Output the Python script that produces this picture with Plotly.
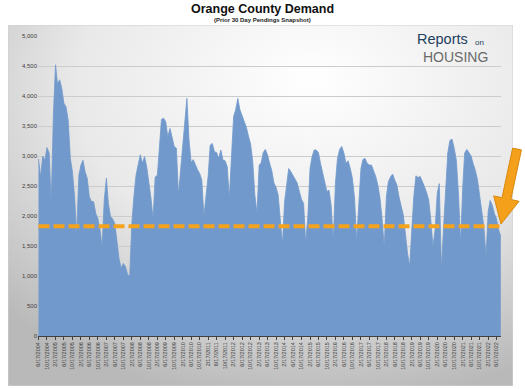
import base64
import pandas as pd
import plotly.graph_objects as go

# ---- data, monthly snapshots from 6/17/2004 ----
demand = [
    2950, 2650, 3000, 2930, 3140, 3050, 2220, 3700, 4520, 4200, 4270, 4130,
    3880, 3820, 3600, 2960, 2740, 2320, 1680, 2680, 2850, 2930, 2740, 2630,
    2320, 2240, 2240, 2040, 1960, 1770, 1490, 2270, 2630, 2210, 1990, 1950,
    1880, 1570, 1290, 1130, 1210, 1160, 1030, 990, 1880, 2320, 2680, 2850,
    3020, 2880, 2990, 2820, 2570, 2300, 1960, 2650, 2680, 3180, 3610, 3630,
    3570, 3320, 3460, 3310, 3160, 3130, 2350, 2770, 3210, 3550, 3960, 3270,
    2890, 2940, 2840, 2770, 2710, 2600, 2000, 2320, 2680, 3180, 3210, 3070,
    3060, 2960, 3100, 2930, 2920, 2820, 2300, 2990, 3660, 3770, 3960, 3770,
    3670, 3550, 3480, 3330, 3200, 2910, 2350, 2050, 2850, 2880, 3060, 3110,
    3020, 2880, 2760, 2550, 2480, 2350, 1910, 1520, 2240, 2550, 2790, 2740,
    2670, 2610, 2550, 2410, 2280, 2210, 1550, 2000, 2790, 2980, 3100, 3100,
    3060, 2880, 2720, 2600, 2410, 2430, 2180, 1600, 2550, 2960, 3110, 3160,
    3050, 2880, 2920, 2790, 2630, 2300, 1580, 2200, 2790, 2940, 2960, 2880,
    2850, 2850, 2760, 2660, 2520, 2300, 1960, 1490, 2320, 2570, 2650, 2700,
    2600, 2520, 2320, 2170, 2020, 1710, 1380, 1160, 1880, 2320, 2670, 2640,
    2660, 2590, 2490, 2390, 2270, 1930, 1490, 1770, 2380, 2540, 1100, 1800,
    2550, 3050, 3260, 3280, 3130, 2930, 2380, 1550, 2490, 3050, 3110, 3060,
    3000, 2870, 2760, 2600, 2330, 2100, 1820, 1320, 2070, 2260, 2180, 2040,
    1950, 1770, 1660,
]
dates = pd.date_range("2004-06-01", periods=len(demand), freq="MS") + pd.Timedelta(days=16)
avg_demand = 1830
tick_dates = list(dates[::4])
tick_labels = [f"{d.month}/{d.day}/{d.year}" for d in tick_dates]
y_ticks = [0, 500, 1000, 1500, 2000, 2500, 3000, 3500, 4000, 4500, 5000]

# ---- geometry helpers (pixel -> paper) ----
L, R, T, B = 38, 501, 36, 336
def px(X):
    return (X - L) / (R - L)
def py(Y):
    return (B - Y) / (B - T)

fig = go.Figure()

fig.add_trace(go.Scatter(
    x=dates, y=demand, mode="lines", fill="tozeroy",
    line=dict(color="#7199cb", width=0.8), fillcolor="#7199cb",
    hoverinfo="skip", showlegend=False,
))
fig.add_trace(go.Scatter(
    x=[dates[0], dates[-1]], y=[avg_demand, avg_demand], mode="lines",
    line=dict(color="#f5a21d", width=4, dash="11px,4px"),
    hoverinfo="skip", showlegend=False,
))

# panel background gradient as SVG image
svg = (
    '<svg xmlns="http://www.w3.org/2000/svg" width="505" height="361" viewBox="0 0 505 361" preserveAspectRatio="none">'
    '<defs><radialGradient id="g" cx="0.6" cy="0.2" r="0.85" fx="0.6" fy="0.15">'
    '<stop offset="0" stop-color="#ffffff"/><stop offset="0.55" stop-color="#e9e9e9"/>'
    '<stop offset="1" stop-color="#b9b9b9"/></radialGradient></defs>'
    '<rect x="0" y="0" width="505" height="361" fill="url(#g)" stroke="#d0d0d0" stroke-width="1"/></svg>'
)
uri = "data:image/svg+xml;base64," + base64.b64encode(svg.encode()).decode()
fig.add_layout_image(dict(
    source=uri, xref="paper", yref="paper", x=px(8), y=py(25),
    sizex=px(513) - px(8), sizey=py(25) - py(386),
    xanchor="left", yanchor="top", sizing="stretch", layer="below",
))

# arrow shape
pts = [(512.6, 148.1), (521.4, 149.9), (510.8, 199.5), (519.1, 201.3),
       (501.0, 224.0), (493.7, 195.9), (502.0, 197.7)]
path = "M " + " L ".join(f"{px(a):.4f},{py(b):.4f}" for a, b in pts) + " Z"
fig.add_shape(type="path", path=path, xref="paper", yref="paper",
              fillcolor="#f5a01a", line=dict(color="#d9880e", width=1))

anns = [
    dict(text="<b>Orange County Demand</b>", x=px(262), y=py(9), size=12.5, color="#111111", ya="middle"),
    dict(text="<b>(Prior 30 Day Pendings Snapshot)</b>", x=px(262), y=py(20), size=6, color="#222222", ya="middle"),
    dict(text="Reports", x=px(442), y=py(48.5), size=14.5, color="#23405f", ya="bottom"),
    dict(text="on", x=px(479), y=py(48.5), size=8, color="#23405f", ya="bottom"),
    dict(text="HOUSING", x=px(455), y=py(47.5), size=14, color="#6a6a6a", ya="top"),
]
for a in anns:
    fig.add_annotation(text=a["text"], x=a["x"], y=a["y"], xref="paper", yref="paper",
                       showarrow=False, xanchor="center", yanchor=a["ya"], borderpad=0,
                       font=dict(family="Liberation Sans, Arial", size=a["size"], color=a["color"]))

fig.update_layout(
    width=525, height=389,
    margin=dict(l=L, r=525 - R, t=T, b=389 - B, autoexpand=False),
    paper_bgcolor="white", plot_bgcolor="rgba(0,0,0,0)",
    font=dict(family="Liberation Sans, Arial", color="#404040"),
    showlegend=False,
)
fig.update_xaxes(
    type="date", range=["2004-06-10", "2022-08-20"],
    tickvals=tick_dates, ticktext=tick_labels, tickangle=-90,
    tickfont=dict(size=5.5, color="#404040"),
    showgrid=False, showline=True, linecolor="#404040", linewidth=1,
    ticks="outside", ticklen=3, tickcolor="#404040", zeroline=False,
)
fig.update_yaxes(
    range=[0, 5000], tickvals=y_ticks, tickformat=",",
    tickfont=dict(size=6, color="#404040"),
    showgrid=True, gridcolor="#cccccc", gridwidth=1,
    showline=False, zeroline=False, ticks="",
)

fig.write_html("out.html", config={"displayModeBar": False, "staticPlot": True},
               post_script="document.body.style.margin='0';document.body.style.overflow='hidden';")
